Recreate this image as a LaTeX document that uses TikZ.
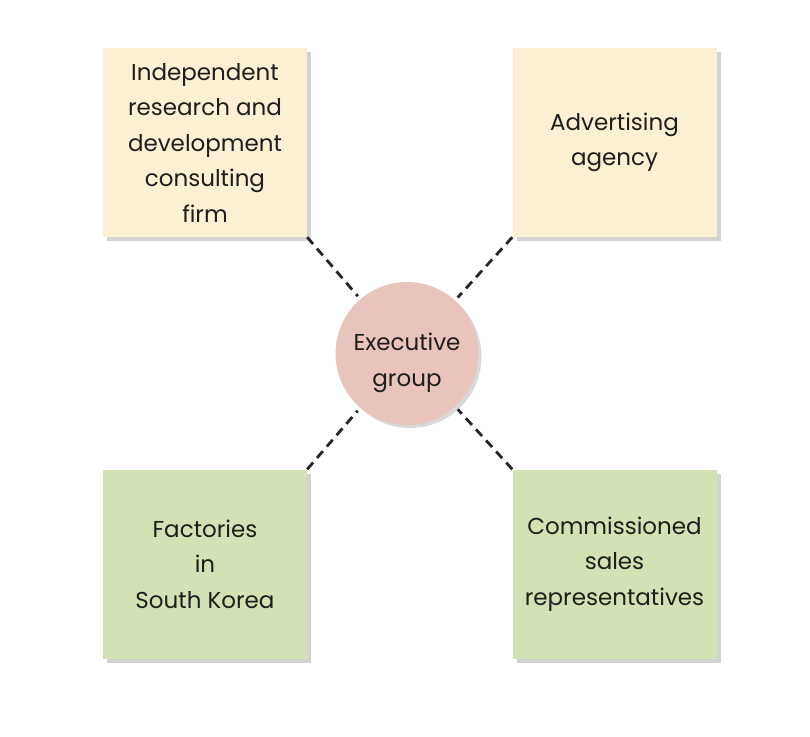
\documentclass[tikz,border=0pt]{standalone}
\usepackage{fontspec}
\setmainfont{Poppins}
\usetikzlibrary{shadows}
\definecolor{boxtan}{HTML}{FCF0D4}
\definecolor{boxgreen}{HTML}{D3E2B4}
\definecolor{execpink}{HTML}{E8C4BC}
\definecolor{inkgray}{HTML}{1E1E1E}
\begin{document}
\begin{tikzpicture}[x=1pt,y=-1pt,
    unit/.style={minimum width=204pt,minimum height=189pt,inner sep=0pt,align=center,
      text=inkgray,font=\fontsize{23}{35.5}\selectfont,
      drop shadow={opacity=0.35,shadow xshift=4pt,shadow yshift=-4pt}},
    link/.style={line width=2.8pt,dash pattern=on 9pt off 6pt,draw=black!85}]
  \useasboundingbox (0,0) rectangle (810,736);
  % outside partners
  \node[unit,fill=boxtan] (rd) at (205,142.5) {Independent\\research and\\development\\consulting\\firm};
  \node[unit,fill=boxtan] (ad) at (614.5,142.5) {Advertising\\agency};
  \node[unit,fill=boxgreen] (fac) at (205,564) {Factories\\in\\South Korea};
  \node[unit,fill=boxgreen] (sales) at (614.5,564) {Commissioned\\sales\\representatives};
  % hub
  \node[circle,fill=execpink,minimum size=143pt,inner sep=0pt,text=inkgray,
    font=\fontsize{23}{35.5}\selectfont,outer sep=4pt,
    drop shadow={opacity=0.3,shadow xshift=3pt,shadow yshift=-3pt}] (exec) at (407,353.5)
    {\raisebox{-8pt}[\height][\depth]{\begin{tabular}{@{}c@{}}Executive\\group\end{tabular}}};
  \draw[link] (rd.south east) -- (exec);
  \draw[link] (ad.south west) -- (exec);
  \draw[link] (fac.north east) -- (exec);
  \draw[link] (sales.north west) -- (exec);
\end{tikzpicture}
\end{document}
